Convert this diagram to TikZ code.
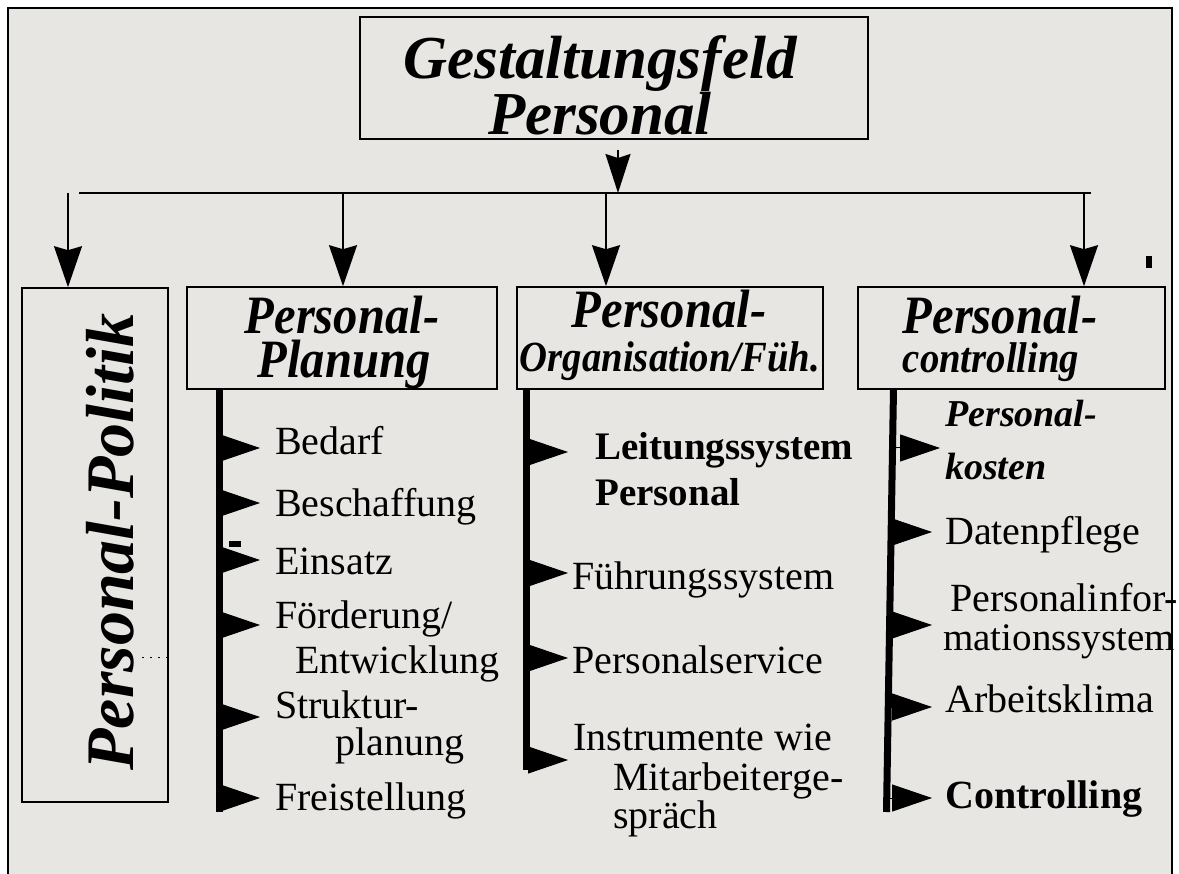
\documentclass[tikz,border=0pt]{standalone}
\usepackage{fontspec}
\setmainfont{Liberation Serif}
\usetikzlibrary{arrows.meta}

\definecolor{granite}{RGB}{231,230,227}
\newcommand\titlefont{\fontsize{61}{61}\selectfont\bfseries\itshape}
\newcommand\polfont{\fontsize{68}{68}\selectfont\bfseries\itshape}
\newcommand\headfont{\fontsize{54}{54}\selectfont\bfseries\itshape}
\newcommand\subfont{\fontsize{43}{43}\selectfont\bfseries\itshape}
\newcommand\itemfont{\fontsize{40}{40}\selectfont}
\newcommand\narrow[1]{\scalebox{0.9}[1]{#1}}

\begin{document}
\begin{tikzpicture}[x=1pt,y=-1pt,
   box/.style={draw,line width=1.6pt,inner sep=0},
   drop/.style={line width=1.8pt,-{Stealth[length=41pt,width=28pt,inset=4pt]}},
   flag/.style={line width=1pt,-{Triangle[length=40pt,width=27pt]}},
   bar/.style={line width=7pt},
   head/.style={anchor=base,inner sep=0},
   item/.style={anchor=base west,inner sep=0,font=\itemfont}]

\useasboundingbox (0,0) rectangle (1179,874);
\fill[white] (0,0) rectangle (1179,874);
\fill[granite] (8,8) rectangle (1172,874);
\draw[line width=1.6pt] (8,874) -- (8,8) -- (1172,8) -- (1172,874);

% boxes
\draw (614,78) node[box,minimum width=508pt,minimum height=122pt] (title) {};
\draw (95,545) node[box,minimum width=146pt,minimum height=514pt] (politik) {};
\draw (342,338) node[box,minimum width=310pt,minimum height=102pt] (plan) {};
\draw (670,338) node[box,minimum width=306pt,minimum height=102pt] (org) {};
\draw (1011.5,338) node[box,minimum width=307pt,minimum height=102pt] (ctrl) {};

% box texts
\draw (600,79) node[head,font=\titlefont] (gest) {Gestaltungsfeld};
\draw (600,135) node[head,font=\titlefont] (pers) {Personal};
\draw (133,542) node[head,rotate=90,font=\polfont] (poltxt) {Personal-Politik};
\draw (342,334) node[head,font=\headfont] (plan1) {\narrow{Personal-}};
\draw (344,378) node[head,font=\headfont] (plan2) {\narrow{Planung}};
\draw (669,328) node[head,font=\headfont] (org1) {\narrow{Personal-}};
\draw (670,372) node[head,font=\subfont] (org2) {\narrow{Organisation/Füh.}};
\draw (1000,334) node[head,font=\headfont] (ctrl1) {\narrow{Personal-}};
\draw (991,373) node[head,font=\subfont] (ctrl2) {\narrow{controlling}};

% connectors
\coordinate (top) at (618,150);
\coordinate (hub) at (618,193);
\coordinate (busL) at (79,193);
\coordinate (busR) at (1091,193);
\coordinate (dpol) at (68,193);
\coordinate (dplan) at (343,193);
\coordinate (dorg) at (606,193);
\coordinate (dctrl) at (1084,193);
\draw[drop,-{Stealth[length=39pt,width=25pt,inset=4pt]}] (top) -- (hub);
\draw[line width=1.8pt] (busL) -- (busR);
\draw[drop] (dpol) -- (dpol |- politik.north);
\draw[drop] (dplan) -- (dplan |- plan.north);
\draw[drop] (dorg) -- (dorg |- org.north);
\draw[drop] (dctrl) -- (dctrl |- ctrl.north);

% bars and flags
\draw[bar] (219.5,389) -- (219.5,812);
\draw[bar] (526.5,389) -- (526.5,770);
\draw[bar] (893.5,389) -- (886.5,812);
\foreach \y in {448,503,560,625,717,798}
  \draw[flag] (219.5,\y) -- (260,\y);
\foreach \y in {452,573,658,760}
  \draw[flag] (526.5,\y) -- (568,\y);
\foreach \x/\y/\t in {892/448/940,891/532/932,889/625/932,888/707/932,887/798/932}
  \draw[flag] (\x,\y) -- (\t,\y);

% items
\draw (275,455) node[item] (bedarf) {Bedarf};
\draw (275,517) node[item] (beschaff) {Beschaffung};
\draw (275,575) node[item] (einsatz) {Einsatz};
\draw (275,628) node[item] (foerd) {Förderung/};
\draw (295,673) node[item] (entw) {Entwicklung};
\draw (275,718) node[item] (strukt) {Struktur-};
\draw (335,755) node[item] (planung) {planung};
\draw (275,810) node[item] (freist) {Freistellung};

\draw (595,460) node[item,font=\fontsize{39}{39}\selectfont\bfseries] (leit) {Leitungssystem};
\draw (595,506) node[item,font=\fontsize{39}{39}\selectfont\bfseries] (leitp) {Personal};
\draw (572,590) node[item] (fuehr) {Führungssystem};
\draw (572,673) node[item] (service) {Personalservice};
\draw (573,750) node[item] (instr) {Instrumente wie};
\draw (613,790) node[item] (mitarb) {Mitarbeiterge-};
\draw (613,828) node[item] (spraech) {spräch};

\draw (945,427) node[item,font=\fontsize{38}{38}\selectfont\bfseries\itshape] (kost1) {Personal-};
\draw (945,480) node[item,font=\fontsize{38}{38}\selectfont\bfseries\itshape] (kost2) {kosten};
\draw (945,545) node[item] (daten) {Datenpflege};
\draw (950,612) node[item] (info1) {Personalinfor-};
\draw (943,650) node[item,font=\fontsize{39}{39}\selectfont] (info2) {mationssystem};
\draw (945,712) node[item] (klima) {Arbeitsklima};
\draw (945,808) node[item,font=\fontsize{40}{40}\selectfont\bfseries] (contr) {Controlling};

% marks
\fill (1146,256) rectangle (1152,268);
\fill (229,541) rectangle (241,547);
\draw[line width=1pt,dash pattern=on 2pt off 6pt] (142,657) -- (172,657);
\end{tikzpicture}
\end{document}
